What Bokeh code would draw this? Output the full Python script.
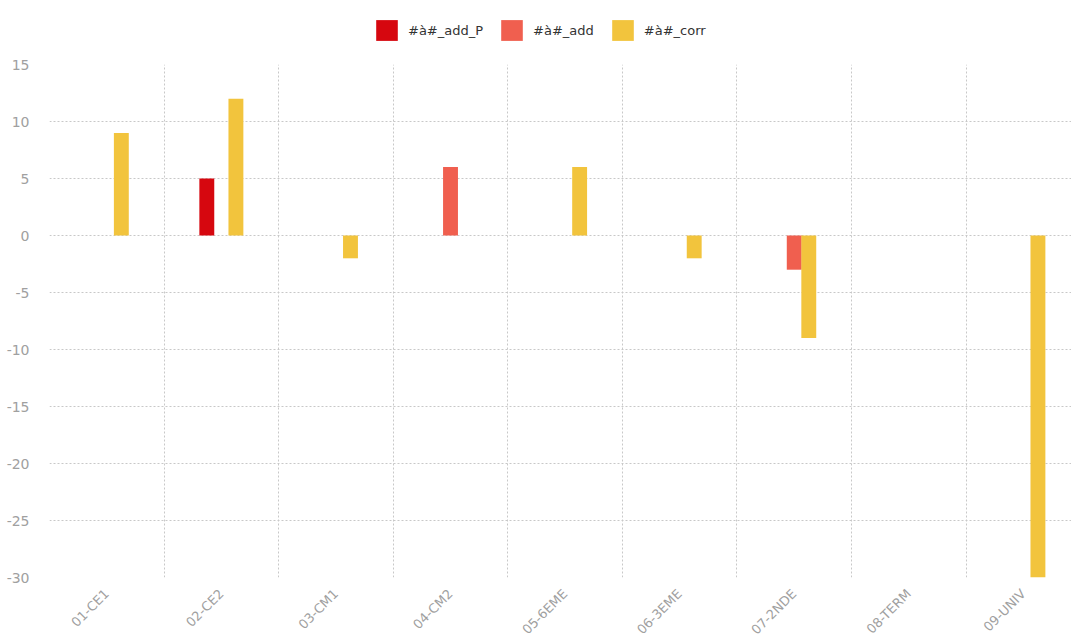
import math
from bokeh.plotting import figure
from bokeh.layouts import column
from bokeh.models import ColumnDataSource, FixedTicker, Legend, LegendItem, Range1d, Grid
from bokeh.transform import dodge
from bokeh.embed import file_html
from bokeh.resources import INLINE

categories = ["01-CE1", "02-CE2", "03-CM1", "04-CM2", "05-6EME", "06-3EME", "07-2NDE", "08-TERM", "09-UNIV"]
add_P = [0, 5, 0, 0, 0, 0, 0, 0, 0]
add = [0, 0, 0, 6, 0, 0, -3, 0, 0]
corr = [9, 12, -2, 0, 6, -2, -9, 0, -30]
series_names = ["#à#_add_P", "#à#_add", "#à#_corr"]
y_ticks = [15, 10, 5, 0, -5, -10, -15, -20, -25, -30]

colors = ["#d6070f", "#f05f4f", "#f2c43d"]
FONT = "DejaVu Sans"

src = ColumnDataSource(dict(
    x=[i + 0.5 for i in range(len(categories))],
    add_P=add_P, add=add, corr=corr,
))

p = figure(frame_width=1022, frame_height=513, output_backend="svg", toolbar_location=None,
           x_range=Range1d(0, 8.92), y_range=Range1d(-30, 15),
           min_border_left=49, min_border_right=0, min_border_top=8, min_border_bottom=10)
p.outline_line_color = None
p.background_fill_color = "white"

w = 0.13
off = 0.127
series_cols = ["add_P", "add", "corr"]
offsets = [-off, 0, off]
renderers = []
for col, o, c in zip(series_cols, offsets, colors):
    renderers.append(p.vbar(x=dodge("x", o, range=p.x_range), top=col, bottom=0, width=w,
                            source=src, fill_color=c, line_color=None))

# axes
p.xaxis.ticker = FixedTicker(ticks=[i + 0.5 for i in range(len(categories))])
p.xaxis.major_label_overrides = {i + 0.5: c for i, c in enumerate(categories)}
p.xaxis.major_label_orientation = math.pi / 4
p.yaxis.ticker = FixedTicker(ticks=y_ticks)
p.yaxis.major_label_overrides = {v: str(v) for v in y_ticks}
for ax in (p.xaxis[0], p.yaxis[0]):
    ax.axis_line_color = None
    ax.major_tick_line_color = None
    ax.minor_tick_line_color = None
    ax.major_label_text_color = "#a0a0a0"
    ax.major_label_text_font = FONT
    ax.major_label_text_font_size = "14px"
p.xaxis.major_label_text_font_size = "13px"
p.yaxis.major_label_standoff = 14
p.xaxis.major_label_standoff = 8

# grids
p.xgrid.grid_line_color = None
vgrid = Grid(dimension=0, ticker=FixedTicker(ticks=list(range(len(categories) + 1))),
             grid_line_color="#c8c8c8", grid_line_dash="2 2", grid_line_width=1)
p.add_layout(vgrid)
p.ygrid.grid_line_color = "#c8c8c8"
p.ygrid.grid_line_dash = "2 2"
p.ygrid.grid_line_width = 1

# legend in its own strip above the plot (same series, bars kept out of view)
lg = figure(width=1071, height=56, output_backend="svg", toolbar_location=None,
            x_range=Range1d(0, 1), y_range=Range1d(1000, 1001),
            min_border=0, x_axis_type=None, y_axis_type=None)
lg.outline_line_color = None
lg.xgrid.visible = False
lg.ygrid.visible = False
lg_renderers = []
for col, c in zip(series_cols, colors):
    lg_renderers.append(lg.vbar(x="x", top=col, bottom=0, width=0.01, source=src,
                                fill_color=c, line_color=None))
legend = Legend(items=[LegendItem(label=n, renderers=[r]) for n, r in zip(series_names, lg_renderers)],
                orientation="horizontal", location=(324, 13),
                label_text_font=FONT, label_text_font_size="13px", label_text_color="#333333",
                glyph_width=27, glyph_height=26, label_standoff=8, spacing=15,
                border_line_color=None, background_fill_alpha=0, margin=0, padding=2)
lg.add_layout(legend)

layout = column(lg, p, spacing=0)
open("out.html", "w").write(file_html(layout, INLINE))
